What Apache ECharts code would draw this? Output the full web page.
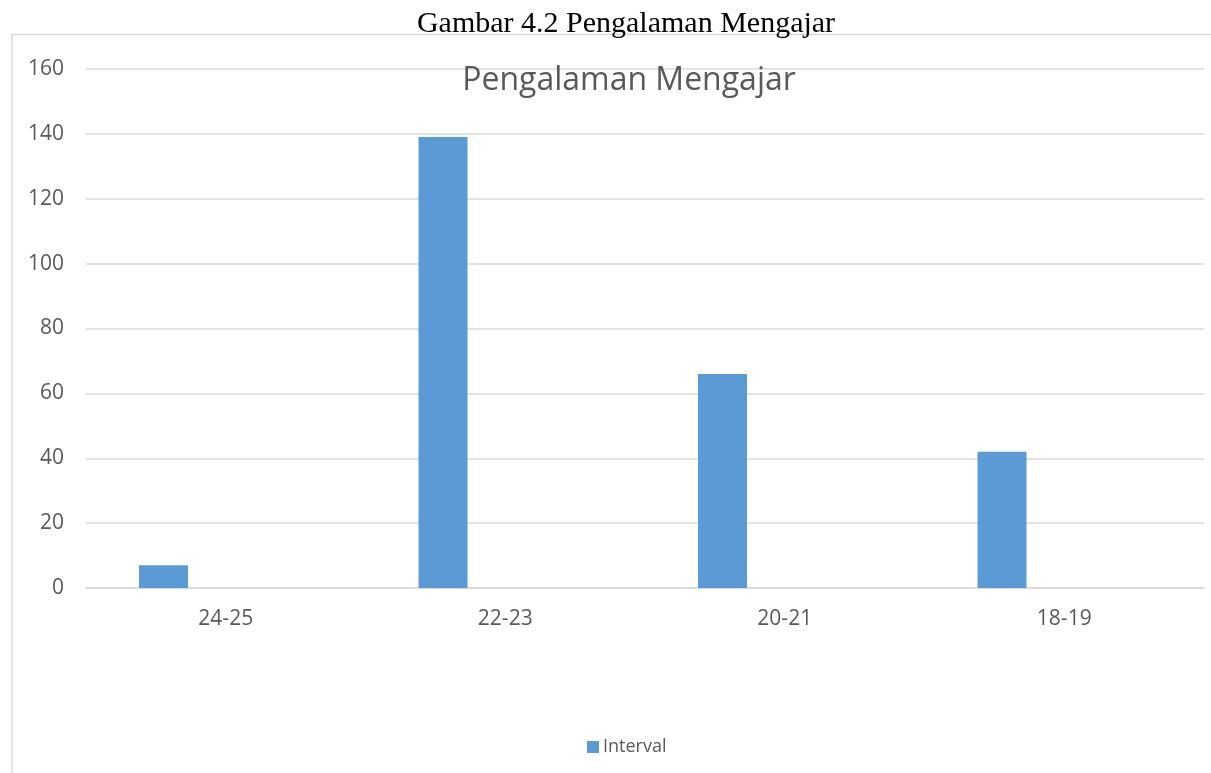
<!DOCTYPE html>
<html>
<head>
<meta charset="utf-8">
<script src="https://cdn.jsdelivr.net/npm/echarts@6/dist/echarts.min.js"></script>
<style>
  html, body { margin: 0; padding: 0; background: #ffffff; }
  #chart { width: 1211px; height: 773px; }
</style>
</head>
<body>
<div id="chart"></div>
<script>
// Teaching experience groups (years) and their counts
const categories = ['24-25', '22-23', '20-21', '18-19'];
const intervalValues = [7, 139, 66, 42];
// Second column of the source table carries no values
const secondColumn = ['-', '-', '-', '-'];
const yTicks = { min: 0, max: 160, interval: 20 };

const chart = echarts.init(document.getElementById('chart'));
const textColor = '#595959';
const font = '"Open Sans", "Noto Sans", sans-serif';

chart.setOption({
  animation: false,
  backgroundColor: '#ffffff',
  graphic: [
    {
      type: 'text',
      x: 626,
      y: 9,
      style: {
        text: 'Gambar 4.2 Pengalaman Mengajar',
        font: '30px "Liberation Serif", "Times New Roman", serif',
        fill: '#000000',
        align: 'center',
        verticalAlign: 'top'
      },
      z: 10
    },
    {
      type: 'polyline',
      shape: { points: [[12, 773], [12, 34.5], [1211, 34.5]] },
      style: { stroke: '#d9d9d9', lineWidth: 1.5, fill: null },
      z: 5
    }
  ],
  title: {
    text: 'Pengalaman Mengajar',
    left: 624,
    textAlign: 'center',
    top: 60,
    textStyle: { fontFamily: font, fontSize: 32, fontWeight: 'normal', color: textColor }
  },
  legend: {
    data: ['Interval'],
    top: 733,
    left: 582,
    itemWidth: 12,
    itemHeight: 12,
    icon: 'rect',
    textStyle: { fontFamily: font, fontSize: 18, color: textColor, padding: [0, 0, 0, -1] }
  },
  grid: { left: 86, right: 7, top: 69, bottom: 185, containLabel: false },
  xAxis: {
    type: 'category',
    data: categories,
    axisLine: { lineStyle: { color: '#d9d9d9', width: 1.5 } },
    axisTick: { show: false },
    axisLabel: { fontFamily: font, fontSize: 21, color: textColor, margin: 21 }
  },
  yAxis: {
    type: 'value',
    min: yTicks.min,
    max: yTicks.max,
    interval: yTicks.interval,
    axisLine: { show: false },
    axisTick: { show: false },
    splitLine: { lineStyle: { color: '#d9d9d9', width: 1.5 } },
    axisLabel: { fontFamily: font, fontSize: 21, color: textColor, margin: 22 }
  },
  series: [
    {
      name: 'Interval',
      type: 'bar',
      data: intervalValues,
      barWidth: 49,
      barGap: '154%',
      itemStyle: { color: '#5b9bd5' }
    },
    {
      name: 'Kolom2',
      type: 'bar',
      data: secondColumn,
      barWidth: 49,
      itemStyle: { color: '#ed7d31' }
    }
  ]
});
</script>
</body>
</html>
